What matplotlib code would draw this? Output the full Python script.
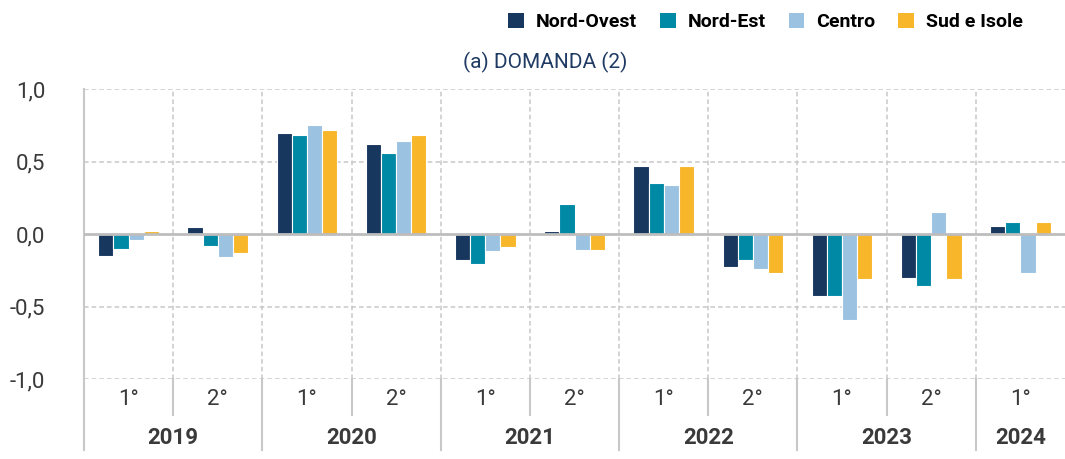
import matplotlib.pyplot as plt
import numpy as np
from matplotlib.patches import Patch

plt.rcParams['font.family'] = ['Roboto', 'DejaVu Sans']

periods = ["1°", "2°", "1°", "2°", "1°", "2°", "1°", "2°", "1°", "2°", "1°"]
years = ["2019", "2020", "2021", "2022", "2023", "2024"]
series = ["Nord-Ovest", "Nord-Est", "Centro", "Sud e Isole"]
nord_ovest = [-0.15, 0.05, 0.70, 0.62, -0.18, 0.02, 0.47, -0.23, -0.43, -0.30, 0.055]
nord_est = [-0.10, -0.08, 0.68, 0.56, -0.21, 0.21, 0.35, -0.18, -0.43, -0.36, 0.085]
centro = [-0.04, -0.16, 0.75, 0.64, -0.12, -0.11, 0.34, -0.24, -0.59, 0.15, -0.27]
sud_isole = [0.02, -0.13, 0.72, 0.68, -0.09, -0.11, 0.47, -0.27, -0.31, -0.31, 0.085]
colors = ["#17375e", "#0089a5", "#9bc2e1", "#f8b62a"]

grey = "#c8c8c8"
txt = "#3a3a3a"

fig = plt.figure(figsize=(10.65, 4.59), dpi=100)
ax = fig.add_axes([84/1065, 1 - 379/459, 981/1065, 290/459])

x = np.arange(len(periods))
w = 0.17
for i, (vals, c) in enumerate(zip([nord_ovest, nord_est, centro, sud_isole], colors)):
    ax.bar(x + (i - 1.5) * w, vals, w, color=c, edgecolor="white", linewidth=0.8, zorder=3)

ax.set_xlim(-0.5, len(periods) - 0.5)
ax.set_ylim(-1.0, 1.0)
ax.set_yticks([-1.0, -0.5, 0.0, 0.5, 1.0])
ax.set_yticklabels(["-1,0", "-0,5", "0,0", "0,5", "1,0"], fontsize=16, color=txt)
ax.tick_params(axis="y", length=0, pad=28)
ax.set_xticks([])
for s in ["top", "right", "bottom", "left"]:
    ax.spines[s].set_visible(False)

for yv in [-1.0, -0.5, 0.5, 1.0]:
    ax.axhline(yv, color=grey, linestyle=(0, (3, 2)), linewidth=1.1, zorder=1)
ax.axhline(0, color="#bdbdbd", linewidth=2, zorder=4)
for b in np.arange(0.5, len(periods) - 0.5, 1.0):
    ax.axvline(b, color=grey, linestyle=(0, (3, 2)), linewidth=1.1, zorder=1)

# category axis below plot
tr = ax.get_xaxis_transform()
ax.plot([-0.5, -0.5], [1.0, -0.245], color=grey, linewidth=1.5, transform=tr, clip_on=False)
for k, b in enumerate(np.arange(0.5, len(periods) - 0.5, 1.0)):
    bottom = -0.245 if k % 2 == 1 else -0.124
    ax.plot([b, b], [0, bottom], color=grey, linewidth=1.5, transform=tr, clip_on=False)
for xi, p in zip(x, periods):
    ax.text(xi, -0.072, p, transform=tr, ha="center", va="center", fontsize=16, color=txt)
for j, yr in enumerate(years):
    xs = x[2 * j:2 * j + 2]
    ax.text(xs.mean(), -0.205, yr, transform=tr, ha="center", va="center",
            fontsize=16, fontweight="bold", color=txt)

fig.text(545/1065, 1 - 62/459, "(a) DOMANDA (2)", ha="center", va="center",
         fontsize=15, color="#1f3a63")

handles = [Patch(facecolor=c, edgecolor="none") for c in colors]
fig.legend(handles, series, loc="center right", bbox_to_anchor=(1040/1065, 1 - 22/459),
           ncol=4, frameon=False, handlelength=0.8, handleheight=0.8, handletextpad=0.6,
           columnspacing=1.2, prop={"size": 14, "weight": "bold"})

fig.savefig("out.png", dpi=100)
